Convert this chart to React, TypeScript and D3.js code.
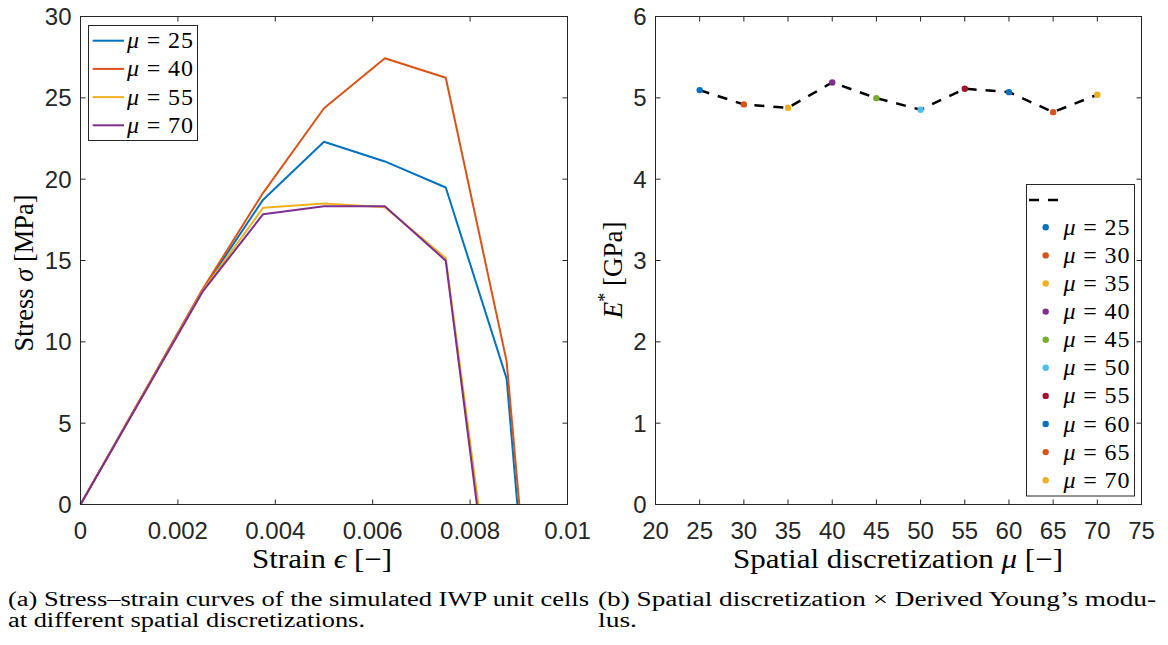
import React from "react";
import * as d3 from "d3";

// ---------- data: left panel (stress-strain) ----------
const strainMu25 = [0, 0.0025, 0.00375, 0.005, 0.00625, 0.0075, 0.00875, 0.00897];
const stressMu25 = [0, 13.15, 18.74, 22.3, 21.09, 19.49, 7.74, 0];
const strainMu40 = [0, 0.0025, 0.00375, 0.005, 0.00625, 0.0075, 0.00875, 0.00901];
const stressMu40 = [0, 13.2, 19.16, 24.36, 27.43, 26.23, 8.8, 0];
const strainMu55 = [0, 0.0025, 0.00375, 0.005, 0.00625, 0.0075, 0.00817];
const stressMu55 = [0, 13.1, 18.24, 18.5, 18.28, 15.15, 0];
const strainMu70 = [0, 0.0025, 0.00375, 0.005, 0.00625, 0.0075, 0.00814];
const stressMu70 = [0, 13.05, 17.85, 18.34, 18.34, 14.99, 0];
const leftLabels = ["25", "40", "55", "70"];
const leftXTicks = [0, 0.002, 0.004, 0.006, 0.008, 0.01];
const leftXTickLabels = ["0", "0.002", "0.004", "0.006", "0.008", "0.01"];
const leftYTicks = [0, 5, 10, 15, 20, 25, 30];

// ---------- data: right panel (E* vs mu) ----------
const muValues = [25, 30, 35, 40, 45, 50, 55, 60, 65, 70];
const eValues = [5.095, 4.919, 4.878, 5.189, 4.996, 4.854, 5.112, 5.07, 4.824, 5.038];
const rightXTicks = [20, 25, 30, 35, 40, 45, 50, 55, 60, 65, 70, 75];
const rightYTicks = [0, 1, 2, 3, 4, 5, 6];

const MATLAB = ["#0072BD", "#D95319", "#EDB120", "#7E2F8E", "#77AC30", "#4DBEEE", "#A2142F"];
const AX = "#262626";
const SANS = "'Liberation Sans', Arial, Helvetica, sans-serif";
const SERIF = "'Liberation Serif', 'Times New Roman', serif";
const TICKFS = 24;

const L = { x0: 80.5, x1: 567.5, yT: 16.5, yB: 504.5 };
const R = { x0: 655.5, x1: 1141.5, yT: 16.5, yB: 504.5 };
const TICK = 5;

function Box({ b, xs, ys, xTicks, yTicks, xLabels, yLabels }: any) {
  return (
    <g>
      <rect x={b.x0} y={b.yT} width={b.x1 - b.x0} height={b.yB - b.yT} fill="none" stroke={AX} strokeWidth={1} />
      {xTicks.map((t: number, i: number) => (
        <g key={"x" + i}>
          <line x1={xs(t)} x2={xs(t)} y1={b.yB} y2={b.yB - TICK} stroke={AX} />
          <line x1={xs(t)} x2={xs(t)} y1={b.yT} y2={b.yT + TICK} stroke={AX} />
          <text x={xs(t)} y={538.5} textAnchor="middle" fontFamily={SANS} fontSize={TICKFS} fill={AX}>
            {xLabels[i]}
          </text>
        </g>
      ))}
      {yTicks.map((t: number, i: number) => (
        <g key={"y" + i}>
          <line x1={b.x0} x2={b.x0 + TICK} y1={ys(t)} y2={ys(t)} stroke={AX} />
          <line x1={b.x1} x2={b.x1 - TICK} y1={ys(t)} y2={ys(t)} stroke={AX} />
          <text x={b.x0 - 9} y={ys(t)} dy="0.36em" textAnchor="end" fontFamily={SANS} fontSize={TICKFS} fill={AX}>
            {yLabels[i]}
          </text>
        </g>
      ))}
    </g>
  );
}

export default function App() {
  const xL = d3.scaleLinear().domain([0, 0.01]).range([L.x0, L.x1]);
  const yL = d3.scaleLinear().domain([0, 30]).range([L.yB, L.yT]);
  const xR = d3.scaleLinear().domain([20, 75]).range([R.x0, R.x1]);
  const yR = d3.scaleLinear().domain([0, 6]).range([R.yB, R.yT]);

  const leftSeries = [
    { label: leftLabels[0], xs: strainMu25, ys: stressMu25, color: MATLAB[0] },
    { label: leftLabels[1], xs: strainMu40, ys: stressMu40, color: MATLAB[1] },
    { label: leftLabels[2], xs: strainMu55, ys: stressMu55, color: MATLAB[2] },
    { label: leftLabels[3], xs: strainMu70, ys: stressMu70, color: MATLAB[3] },
  ];
  const line = d3
    .line<[number, number]>()
    .x((d) => xL(d[0]))
    .y((d) => yL(d[1]));
  const rPts: [number, number][] = muValues.map((m, i) => [m, eValues[i]]);
  const rLine = d3
    .line<[number, number]>()
    .x((d) => xR(d[0]))
    .y((d) => yR(d[1]));

  return (
    <svg width={1168} height={645} style={{ position: "absolute", left: 0, top: 0, background: "#fff" }}>
      <rect width={1168} height={645} fill="#fff" />
      {/* ---------- left panel ---------- */}
      <g>
        {leftSeries.map((s, i) => (
          <path
            key={i}
            d={line(s.xs.map((x, j) => [x, s.ys[j]] as [number, number])) || ""}
            fill="none"
            stroke={s.color}
            strokeWidth={2}
            strokeLinejoin="round"
          />
        ))}
        <Box
          b={L}
          xs={xL}
          ys={yL}
          xTicks={leftXTicks}
          yTicks={leftYTicks}
          xLabels={leftXTickLabels}
          yLabels={leftYTicks.map(String)}
        />
        {/* legend */}
        <rect x={88.5} y={25.5} width={109} height={115} fill="#fff" stroke={AX} strokeWidth={1} />
        {leftSeries.map((s, i) => {
          const y = 40.7 + i * 28.2;
          return (
            <g key={i}>
              <line x1={92.7} x2={124} y1={y} y2={y} stroke={s.color} strokeWidth={2} />
              <text x={127} y={y + 7.5} fontFamily={SERIF} fontSize={24} fill="#000" textLength={66} lengthAdjust="spacing">
                <tspan fontStyle="italic">μ</tspan>
                <tspan> = {s.label}</tspan>
              </text>
            </g>
          );
        })}
        <text x={322} y={568} textAnchor="middle" fontFamily={SERIF} fontSize={27} fill="#000" textLength={140} lengthAdjust="spacingAndGlyphs">
          Strain <tspan fontStyle="italic">ϵ</tspan> [−]
        </text>
        <text transform="translate(33,273) rotate(-90)" textAnchor="middle" fontFamily={SERIF} fontSize={27} fill="#000" textLength={157} lengthAdjust="spacingAndGlyphs">
          Stress <tspan fontStyle="italic">σ</tspan> [MPa]
        </text>
      </g>

      {/* ---------- right panel ---------- */}
      <g>
        <path d={rLine(rPts) || ""} fill="none" stroke="#000" strokeWidth={2.5} strokeDasharray="10 9" />
        {rPts.map((p, i) => (
          <circle key={i} cx={xR(p[0])} cy={yR(p[1])} r={3.2} fill={MATLAB[i % 7]} />
        ))}
        <Box
          b={R}
          xs={xR}
          ys={yR}
          xTicks={rightXTicks}
          yTicks={rightYTicks}
          xLabels={rightXTicks.map(String)}
          yLabels={rightYTicks.map(String)}
        />
        <rect x={1026.5} y={184.5} width={108} height={311.5} fill="#fff" stroke={AX} strokeWidth={1} />
        <line x1={1029} x2={1061} y1={200} y2={200} stroke="#000" strokeWidth={2.5} strokeDasharray="10 9" />
        {muValues.map((m, i) => {
          const y = 227.3 + i * 28.1;
          return (
            <g key={i}>
              <circle cx={1045.7} cy={y} r={3.2} fill={MATLAB[i % 7]} />
              <text x={1063.5} y={y + 7.5} fontFamily={SERIF} fontSize={24} fill="#000" textLength={66} lengthAdjust="spacing">
                <tspan fontStyle="italic">μ</tspan>
                <tspan> = {m}</tspan>
              </text>
            </g>
          );
        })}
        <text x={898} y={568} textAnchor="middle" fontFamily={SERIF} fontSize={27} fill="#000" textLength={330} lengthAdjust="spacingAndGlyphs">
          Spatial discretization <tspan fontStyle="italic">μ</tspan> [−]
        </text>
        <text transform="translate(622,270) rotate(-90)" textAnchor="middle" fontFamily={SERIF} fontSize={27} fill="#000">
          <tspan fontStyle="italic">E</tspan>
          <tspan fontSize={18} dy={-11}>*</tspan>
          <tspan dy={11}> [GPa]</tspan>
        </text>
      </g>

      {/* ---------- captions ---------- */}
      <g fontFamily={SERIF} fontSize={20} fill="#000">
        <text x={8} y={606} textLength={581} lengthAdjust="spacingAndGlyphs">
          (a) Stress–strain curves of the simulated IWP unit cells
        </text>
        <text x={8} y={627} textLength={357} lengthAdjust="spacingAndGlyphs">
          at different spatial discretizations.
        </text>
        <text x={598} y={606} textLength={558} lengthAdjust="spacingAndGlyphs">
          (b) Spatial discretization × Derived Young’s modu-
        </text>
        <text x={598} y={627} textLength={39} lengthAdjust="spacingAndGlyphs">
          lus.
        </text>
      </g>
    </svg>
  );
}
